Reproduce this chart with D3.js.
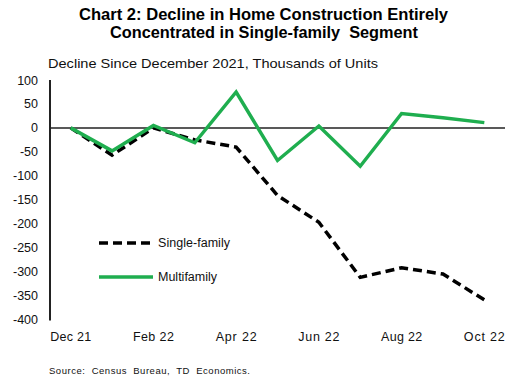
<!DOCTYPE html>
<html><head><meta charset="utf-8">
<script src="https://cdn.jsdelivr.net/npm/d3@7"></script>
<style>body{margin:0;background:#fff}svg{display:block;font-family:"Liberation Sans",Arial,sans-serif}</style>
</head><body><svg id="c" width="515" height="384"></svg>
<script>
const months = ["Dec 21","Jan 22","Feb 22","Mar 22","Apr 22","May 22","Jun 22","Jul 22","Aug 22","Sep 22","Oct 22"];
const tickLabels = ["Dec 21","Feb 22","Apr 22","Jun 22","Aug 22","Oct 22"];
const singleFamily = [0,-57,0,-25,-40,-141,-197,-312,-292,-305,-359];
const multifamily = [0,-48,5,-31,75,-68,4,-80,30,21,11];
const yTicks = [100,50,0,-50,-100,-150,-200,-250,-300,-350,-400];

const svg = d3.select("#c");
const x = d3.scalePoint().domain(months).range([50,505]).padding(0.5);
const y = d3.scaleLinear().domain([-400,100]).range([319.5,80]);

svg.append("text").attr("x",79).attr("y",20).attr("textLength",369).attr("lengthAdjust","spacingAndGlyphs")
  .attr("font-size",16.5).attr("font-weight","bold").text("Chart 2: Decline in Home Construction Entirely");
svg.append("text").attr("x",110).attr("y",38).attr("textLength",308).attr("lengthAdjust","spacingAndGlyphs")
  .attr("font-size",16.5).attr("font-weight","bold").attr("xml:space","preserve").text("Concentrated in Single-family  Segment");
svg.append("text").attr("x",48).attr("y",68).attr("font-size",13.5).attr("fill","#111")
  .attr("textLength",330).attr("lengthAdjust","spacingAndGlyphs")
  .text("Decline Since December 2021, Thousands of Units");

// y tick labels
svg.append("g").selectAll("text").data(yTicks).join("text")
  .attr("x",38).attr("y",d=>y(d)+4.5).attr("text-anchor","end").attr("font-size",12.5).attr("fill","#111")
  .text(d=>d);
// x tick labels
svg.append("g").selectAll("text").data(tickLabels).join("text")
  .attr("x",d=>x(d)-20.5).attr("y",341).attr("font-size",12.5).attr("fill","#111")
  .attr("textLength",41).attr("lengthAdjust","spacing")
  .text(d=>d);

// axis line
svg.append("line").attr("x1",50).attr("x2",50).attr("y1",y(100)).attr("y2",y(-400)+1)
  .attr("stroke","#222").attr("stroke-width",2);
// zero line
svg.append("line").attr("x1",50).attr("x2",505).attr("y1",y(0)).attr("y2",y(0))
  .attr("stroke","#222").attr("stroke-width",1.5);

const line = d3.line().x((d,i)=>x(months[i])).y(d=>y(d));
svg.append("path").datum(singleFamily).attr("d",line).attr("fill","none")
  .attr("stroke","#000").attr("stroke-width",3.5).attr("stroke-dasharray","9,5");
svg.append("path").datum(multifamily).attr("d",line).attr("fill","none")
  .attr("stroke","#1fae4f").attr("stroke-width",3.5).attr("stroke-linejoin","miter");

// legend
const lg = svg.append("g");
lg.append("line").attr("x1",99).attr("x2",153).attr("y1",243).attr("y2",243)
  .attr("stroke","#000").attr("stroke-width",3.5).attr("stroke-dasharray","9,5");
lg.append("text").attr("x",158).attr("y",247).attr("font-size",12.5).attr("fill","#111")
  .attr("textLength",72).attr("lengthAdjust","spacing").text("Single-family");
lg.append("line").attr("x1",99).attr("x2",153).attr("y1",277).attr("y2",277)
  .attr("stroke","#1fae4f").attr("stroke-width",3.5);
lg.append("text").attr("x",158).attr("y",281).attr("font-size",12.5).attr("fill","#111")
  .attr("textLength",59).attr("lengthAdjust","spacing").text("Multifamily");

svg.append("text").attr("x",49).attr("y",374).attr("font-size",9.5).attr("fill","#111")
  .attr("textLength",201).attr("lengthAdjust","spacing")
  .attr("xml:space","preserve").text("Source:  Census  Bureau,  TD  Economics.");
</script></body></html>
